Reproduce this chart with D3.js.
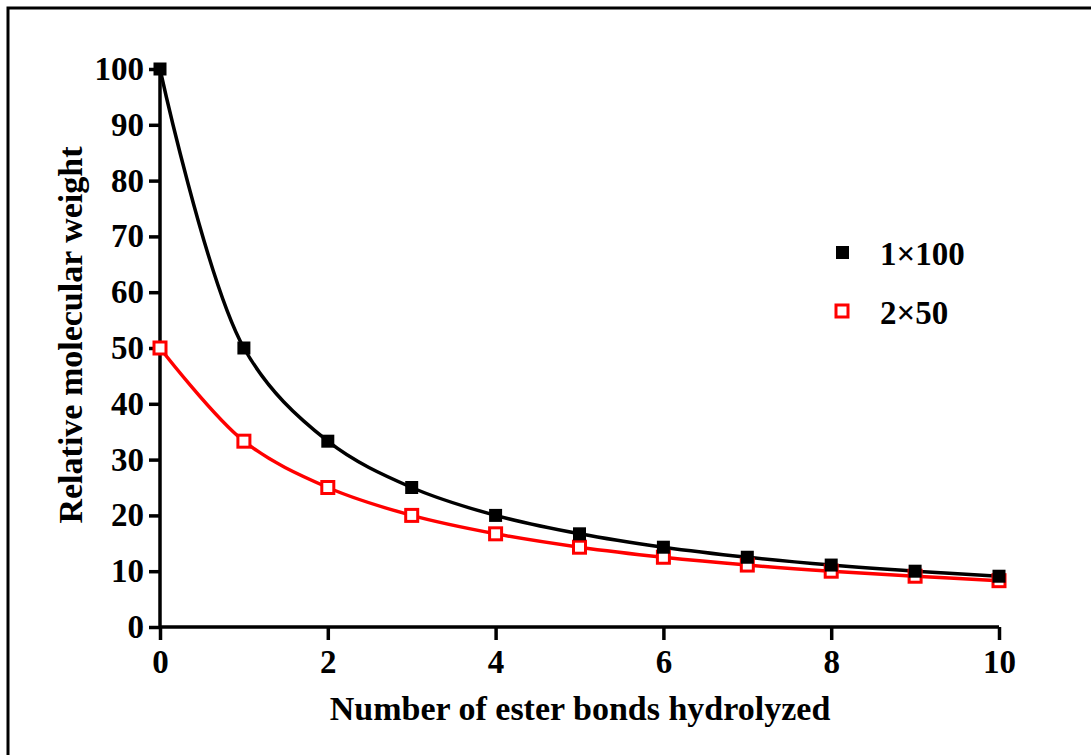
<!DOCTYPE html>
<html>
<head>
<meta charset="utf-8">
<script src="https://cdn.jsdelivr.net/npm/d3@7"></script>
<style>
  body { margin: 0; background: #fff; }
  svg { display: block; }
  text { font-family: "Liberation Serif", "Times New Roman", serif; font-weight: bold; }
</style>
</head>
<body>
<script>
// data
var bonds = [0, 1, 2, 3, 4, 5, 6, 7, 8, 9, 10];
var oneBy100 = [100, 50, 33.3, 25, 20, 16.7, 14.3, 12.5, 11.1, 10, 9.1];
var twoBy50 = [50, 33.3, 25, 20, 16.7, 14.3, 12.5, 11.1, 10, 9.1, 8.3];
var xTicks = [0, 2, 4, 6, 8, 10];
var yTicks = [0, 10, 20, 30, 40, 50, 60, 70, 80, 90, 100];
var seriesNames = ["1\u00d7100", "2\u00d750"];

var width = 1091, height = 755;

var svg = d3.select("body").append("svg")
    .attr("width", width)
    .attr("height", height);

// outer frame (only top/left visible in the picture)
svg.append("rect")
    .attr("x", 8).attr("y", 8)
    .attr("width", 1100).attr("height", 800)
    .attr("fill", "none")
    .attr("stroke", "#000")
    .attr("stroke-width", 3);

var x = d3.scaleLinear().domain([0, 10]).range([160, 999]);
var y = d3.scaleLinear().domain([0, 100]).range([627, 69]);

// y axis
var yAxis = svg.append("g")
    .attr("transform", "translate(160,0)")
    .call(d3.axisLeft(y).tickValues(yTicks).tickSize(11).tickPadding(5));
// x axis
var xAxis = svg.append("g")
    .attr("transform", "translate(0,627)")
    .call(d3.axisBottom(x).tickValues(xTicks).tickSize(13).tickPadding(10));

[yAxis, xAxis].forEach(function(ax) {
    ax.select(".domain").attr("stroke", "#000").attr("stroke-width", 3.5);
    ax.selectAll(".tick line").attr("stroke", "#000").attr("stroke-width", 3.5);
    ax.selectAll(".tick text")
        .attr("fill", "#000")
        .style("font-family", "'Liberation Serif', serif")
        .style("font-weight", "bold")
        .style("font-size", "33px");
});
// the y axis line runs down to the x=0 tick
yAxis.select(".domain").attr("d", "M0,627V69");
xAxis.select(".domain").attr("d", "M160,0H999");

// axis titles
svg.append("text")
    .attr("x", 580).attr("y", 720)
    .attr("text-anchor", "middle")
    .style("font-size", "34px")
    .text("Number of ester bonds hydrolyzed");
svg.append("text")
    .attr("transform", "translate(82,335) rotate(-90)")
    .attr("text-anchor", "middle")
    .style("font-size", "34px")
    .text("Relative molecular weight");

var line = d3.line()
    .x(function(d, i) { return x(bonds[i]); })
    .y(function(d) { return y(d); })
    .curve(d3.curveCatmullRom.alpha(0.5));

// red series
svg.append("path")
    .datum(twoBy50)
    .attr("fill", "none")
    .attr("stroke", "#ff0000")
    .attr("stroke-width", 3.5)
    .attr("d", line);
// black series
svg.append("path")
    .datum(oneBy100)
    .attr("fill", "none")
    .attr("stroke", "#000")
    .attr("stroke-width", 3.5)
    .attr("d", line);

// markers
svg.selectAll("rect.red")
    .data(twoBy50)
    .enter().append("rect")
    .attr("class", "red")
    .attr("x", function(d, i) { return x(bonds[i]) - 6; })
    .attr("y", function(d) { return y(d) - 6; })
    .attr("width", 12).attr("height", 12)
    .attr("fill", "#fff")
    .attr("stroke", "#ff0000")
    .attr("stroke-width", 3);

svg.selectAll("rect.black")
    .data(oneBy100)
    .enter().append("rect")
    .attr("class", "black")
    .attr("x", function(d, i) { return x(bonds[i]) - 6.5; })
    .attr("y", function(d) { return y(d) - 6.5; })
    .attr("width", 13).attr("height", 13)
    .attr("fill", "#000");

// legend
var legend = svg.append("g");
legend.append("rect")
    .attr("x", 836).attr("y", 246).attr("width", 13).attr("height", 13)
    .attr("fill", "#000");
legend.append("rect")
    .attr("x", 836).attr("y", 305).attr("width", 12).attr("height", 12)
    .attr("fill", "#fff").attr("stroke", "#ff0000").attr("stroke-width", 3);
legend.append("text")
    .attr("x", 880).attr("y", 265)
    .style("font-size", "33px")
    .text(seriesNames[0]);
legend.append("text")
    .attr("x", 880).attr("y", 324)
    .style("font-size", "33px")
    .text(seriesNames[1]);
</script>
</body>
</html>
